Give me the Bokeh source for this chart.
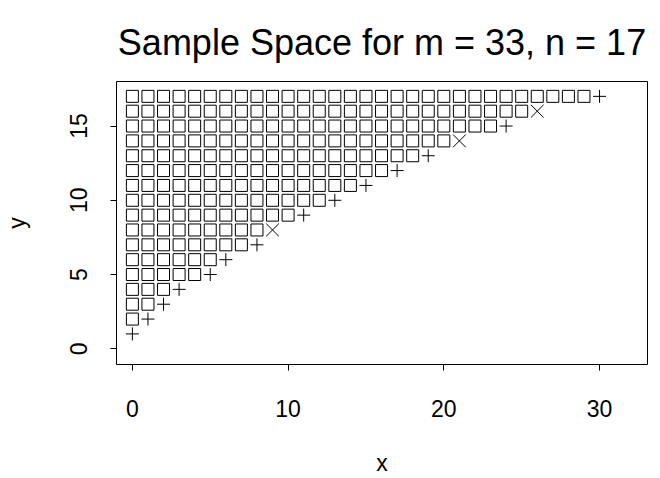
from bokeh.plotting import figure
from bokeh.models import Range1d, FixedTicker, ColumnDataSource
from bokeh.embed import file_html
from bokeh.resources import INLINE

# ---- data ----
m_value, n_value = 33, 17
row_y = [1, 2, 3, 4, 5, 6, 7, 8, 9, 10, 11, 12, 13, 14, 15, 16, 17]
row_last_x = [0, 1, 2, 3, 5, 6, 8, 9, 11, 13, 15, 17, 19, 21, 24, 26, 30]
row_last_mark = ["cross", "cross", "cross", "cross", "cross", "cross", "cross", "x",
                 "cross", "cross", "cross", "cross", "cross", "x", "cross", "x", "cross"]
x_ticks = [0, 10, 20, 30]
y_ticks = [0, 5, 10, 15]
title_text = f"Sample Space for m = {m_value}, n = {n_value}"

# squares: every point of a row before its last point
sq_x, sq_y = [], []
for yv, lx in zip(row_y, row_last_x):
    for xv in range(lx):
        sq_x.append(xv)
        sq_y.append(yv)

plus_src = ColumnDataSource(dict(
    x=[lx for lx, mk in zip(row_last_x, row_last_mark) if mk == "cross"],
    y=[yv for yv, mk in zip(row_y, row_last_mark) if mk == "cross"]))
times_src = ColumnDataSource(dict(
    x=[lx for lx, mk in zip(row_last_x, row_last_mark) if mk == "x"],
    y=[yv for yv, mk in zip(row_y, row_last_mark) if mk == "x"]))
sq_src = ColumnDataSource(dict(x=sq_x, y=sq_y))

FONT = "Liberation Sans"

p = figure(width=660, height=478,
           x_range=Range1d(-1.02, 33.08), y_range=Range1d(-1.06, 18.0),
           output_backend="svg", toolbar_location=None,
           min_border_left=114, min_border_right=13,
           min_border_top=81, min_border_bottom=114,
           title=title_text)

p.background_fill_color = "white"
p.border_fill_color = "white"
p.outline_line_color = "black"
p.outline_line_width = 1
p.grid.visible = False

p.title.align = "center"
p.title.text_font = FONT
p.title.text_font_size = "36px"
p.title.text_font_style = "normal"
p.title.text_color = "black"
p.title.standoff = 37

for ax in (p.xaxis[0], p.yaxis[0]):
    ax.axis_line_color = None
    ax.major_tick_in = 0
    ax.major_tick_out = 6
    ax.major_tick_line_color = "black"
    ax.minor_tick_line_color = None
    ax.major_label_text_font = FONT
    ax.major_label_text_font_size = "23px"
    ax.major_label_text_color = "black"
    ax.major_label_text_line_height = 0.8
    ax.axis_label_text_font = FONT
    ax.axis_label_text_font_size = "23px"
    ax.axis_label_text_font_style = "normal"
    ax.axis_label_text_color = "black"
    ax.axis_label_text_line_height = 0.8

p.xaxis.ticker = FixedTicker(ticks=x_ticks)
p.yaxis.ticker = FixedTicker(ticks=y_ticks)
p.xaxis.axis_label = "x"
p.yaxis.axis_label = "y"
p.xaxis.major_label_standoff = 29
p.yaxis.major_label_standoff = 23
p.yaxis.major_label_orientation = "vertical"
p.xaxis.axis_label_standoff = 30
p.yaxis.axis_label_standoff = 38

p.scatter("x", "y", source=sq_src, marker="square", size=12,
          fill_color=None, line_color="black", line_width=1)
p.scatter("x", "y", source=plus_src, marker="cross", size=13,
          line_color="black", line_width=1)
p.scatter("x", "y", source=times_src, marker="x", size=18,
          line_color="black", line_width=1)

open("out.html", "w").write(file_html(p, INLINE))
